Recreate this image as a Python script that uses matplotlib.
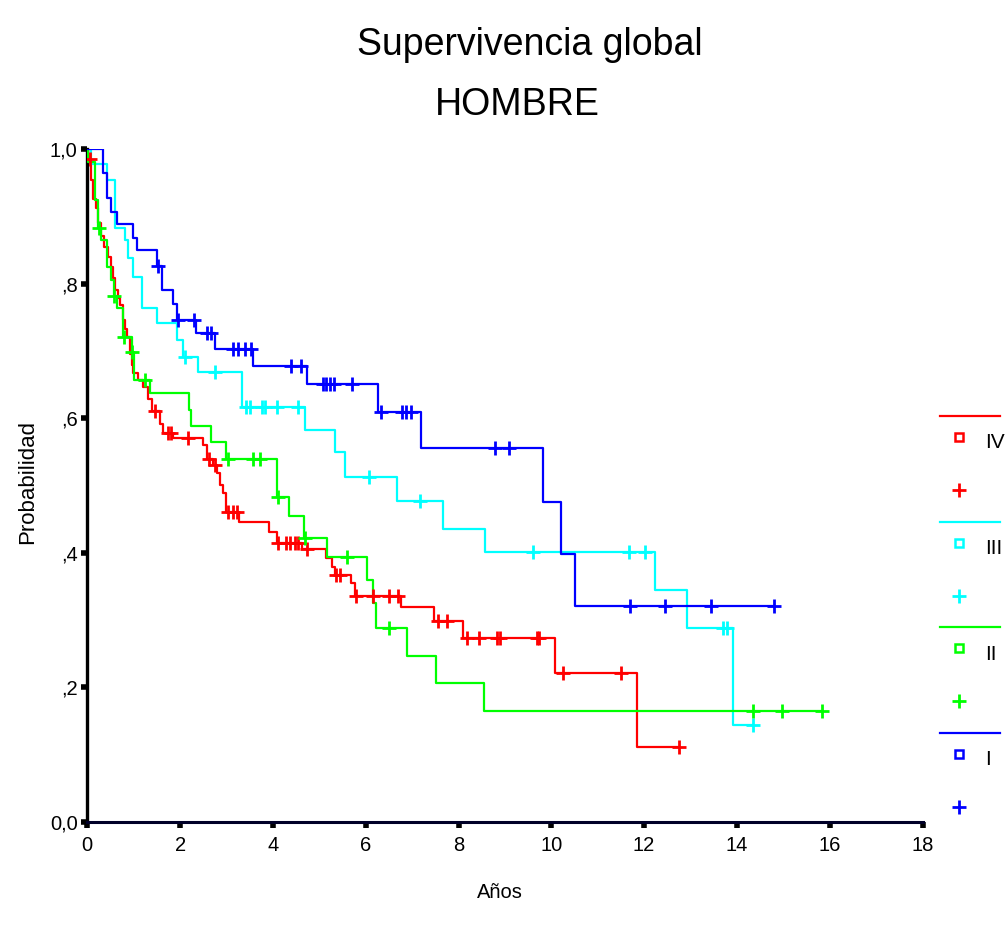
import numpy as np
import matplotlib
matplotlib.use('Agg')
import matplotlib.pyplot as plt
from matplotlib.lines import Line2D

plt.rcParams['font.family'] = ['Liberation Sans', 'DejaVu Sans']

# data ########################################################################

title = 'Supervivencia global'
subtitle = 'HOMBRE'
x_label = 'Años'
y_label = 'Probabilidad'

x_ticks = [0, 2, 4, 6, 8, 10, 12, 14, 16, 18]
y_ticks = [0.0, 0.2, 0.4, 0.6, 0.8, 1.0]
y_tick_labels = ['0,0', ',2', ',4', ',6', ',8', '1,0']

groups = ['IV', 'III', 'II', 'I']
colors = {'IV': '#ff0000', 'III': '#00ffff', 'II': '#00ff00', 'I': '#0000ff'}

# step times (years) and survival after each step
steps_IV_t = [0.02, 0.07, 0.13, 0.18, 0.24, 0.30, 0.36, 0.45, 0.52, 0.56, 0.60,
              0.67, 0.70, 0.78, 0.82, 0.85, 0.92, 0.96, 0.99, 1.10, 1.21, 1.31,
              1.40, 1.56, 1.63, 1.85, 2.50, 2.58, 2.70, 2.80, 2.85, 2.92, 3.00,
              3.28, 3.92, 4.09, 4.62, 5.14, 5.27, 5.34, 5.68, 5.77, 6.75, 7.47,
              8.10, 10.08, 11.85]
steps_IV_s = [0.985, 0.954, 0.925, 0.912, 0.890, 0.870, 0.855, 0.840, 0.825,
              0.808, 0.790, 0.778, 0.768, 0.746, 0.733, 0.721, 0.696, 0.679,
              0.667, 0.657, 0.647, 0.629, 0.610, 0.592, 0.578, 0.570, 0.560,
              0.540, 0.530, 0.518, 0.501, 0.489, 0.461, 0.445, 0.431, 0.414,
              0.405, 0.392, 0.379, 0.367, 0.355, 0.336, 0.320, 0.299, 0.273,
              0.222, 0.112]
cens_IV = [0.05, 1.46, 1.73, 1.80, 2.18, 2.62, 2.75, 3.04, 3.15, 3.22, 4.12,
           4.28, 4.37, 4.48, 4.55, 4.73, 5.36, 5.45, 5.80, 6.16, 6.51, 6.70,
           7.56, 7.75, 8.18, 8.45, 8.82, 8.89, 9.69, 9.74, 10.25, 11.50, 12.76]

steps_III_t = [0.07, 0.42, 0.60, 0.81, 0.88, 0.99, 1.17, 1.51, 1.93, 2.06, 2.39,
               3.33, 4.69, 5.34, 5.55, 6.68, 7.67, 8.57, 12.23, 12.93, 13.92]
steps_III_s = [0.978, 0.954, 0.882, 0.865, 0.838, 0.810, 0.763, 0.741, 0.716,
               0.691, 0.668, 0.616, 0.582, 0.549, 0.513, 0.477, 0.436, 0.401,
               0.345, 0.288, 0.144]
cens_III = [2.10, 2.75, 3.43, 3.51, 3.76, 3.83, 4.08, 4.55, 6.08, 7.17, 9.60,
            11.68, 12.02, 13.71, 13.79, 14.35]

steps_II_t = [0.02, 0.166, 0.24, 0.29, 0.42, 0.52, 0.57, 0.65, 0.78, 0.96, 1.00,
              1.35, 2.19, 2.24, 2.67, 3.00, 4.09, 4.35, 4.66, 5.16, 6.03, 6.16,
              6.22, 6.90, 7.51, 8.55]
steps_II_s = [0.981, 0.924, 0.882, 0.865, 0.825, 0.805, 0.781, 0.763, 0.721,
              0.699, 0.657, 0.637, 0.612, 0.588, 0.564, 0.540, 0.483, 0.455,
              0.422, 0.394, 0.360, 0.325, 0.288, 0.247, 0.207, 0.165]
cens_II = [0.25, 0.58, 0.79, 0.97, 1.24, 3.04, 3.58, 3.72, 4.12, 4.70, 5.60,
           6.51, 14.35, 14.97, 15.83]

steps_I_t = [0.345, 0.42, 0.51, 0.64, 0.99, 1.08, 1.50, 1.60, 1.85, 1.93, 2.34,
             2.75, 3.57, 4.74, 6.26, 7.19, 9.83, 10.21, 10.52]
steps_I_s = [0.964, 0.927, 0.907, 0.889, 0.867, 0.850, 0.826, 0.790, 0.770,
             0.746, 0.727, 0.702, 0.677, 0.651, 0.609, 0.555, 0.475, 0.398, 0.321]
cens_I = [1.53, 1.95, 2.30, 2.57, 2.66, 3.15, 3.25, 3.40, 3.52, 4.38, 4.60,
          5.07, 5.14, 5.23, 5.32, 5.70, 6.34, 6.78, 6.87, 6.98, 8.79, 9.09,
          11.70, 12.45, 13.44, 14.80]

curves = {
    'IV': (steps_IV_t, steps_IV_s, cens_IV),
    'III': (steps_III_t, steps_III_s, cens_III),
    'II': (steps_II_t, steps_II_s, cens_II),
    'I': (steps_I_t, steps_I_s, cens_I),
}

###############################################################################

fig = plt.figure(figsize=(10.08, 9.25), dpi=100)
ax = fig.add_axes([0.0866, 0.1114, 0.8286, 0.7276])

for g in groups:
    t, s, cens = curves[g]
    end = max(max(cens), t[-1])
    xs = np.concatenate([[0.0], t, [end]])
    ys = np.concatenate([[1.0], s, [s[-1]]])
    ax.step(xs, ys, where='post', color=colors[g], lw=1.6, zorder=3)
    # censored observations sit on the curve
    surv = np.concatenate([[1.0], s])
    idx = np.searchsorted(t, cens, side='right')
    ax.plot(cens, surv[idx], ls='none', marker='+', ms=10, mew=2,
            color=colors[g], zorder=4)

ax.set_xlim(0, 18)
ax.set_ylim(0, 1)
ax.set_xticks(x_ticks)
ax.set_xticklabels([str(v) for v in x_ticks])
ax.set_yticks(y_ticks)
ax.set_yticklabels(y_tick_labels)
ax.tick_params(direction='out', length=4, width=4, labelsize=14.5, pad=3)
ax.tick_params(axis='x', pad=6)
for side in ['top', 'right']:
    ax.spines[side].set_visible(False)
ax.spines['left'].set_linewidth(2.4)
ax.spines['bottom'].set_linewidth(2.2)
ax.spines['bottom'].set_color('#000028')

fig.text(530 / 1008, 1 - 45 / 925, title, ha='center', va='center', fontsize=27)
fig.text(517 / 1008, 1 - 105 / 925, subtitle, ha='center', va='center', fontsize=27)
fig.text(500 / 1008, 1 - 893 / 925, x_label, ha='center', va='center', fontsize=14.5)
fig.text(28 / 1008, 1 - 482 / 925, y_label, ha='center', va='center',
         rotation=90, fontsize=16)

# legend on the right
top = 416
gap = 105.5
for i, g in enumerate(groups):
    yl = top + i * gap
    fig.add_artist(Line2D([940 / 1008, 1000 / 1008], [1 - yl / 925, 1 - yl / 925],
                          color=colors[g], lw=1.6, transform=fig.transFigure))
    fig.add_artist(Line2D([959 / 1008], [1 - (yl + 21) / 925], marker='s', ms=5.5,
                          mfc='white', mec=colors[g], mew=1.8, ls='none',
                          transform=fig.transFigure))
    fig.text(985 / 1008, 1 - (yl + 27) / 925, g, ha='left', va='center', fontsize=15)
    fig.add_artist(Line2D([959 / 1008], [1 - (yl + 74) / 925], marker='+', ms=10,
                          mew=2, color=colors[g], ls='none',
                          transform=fig.transFigure))

fig.savefig('out.png', dpi=100)
